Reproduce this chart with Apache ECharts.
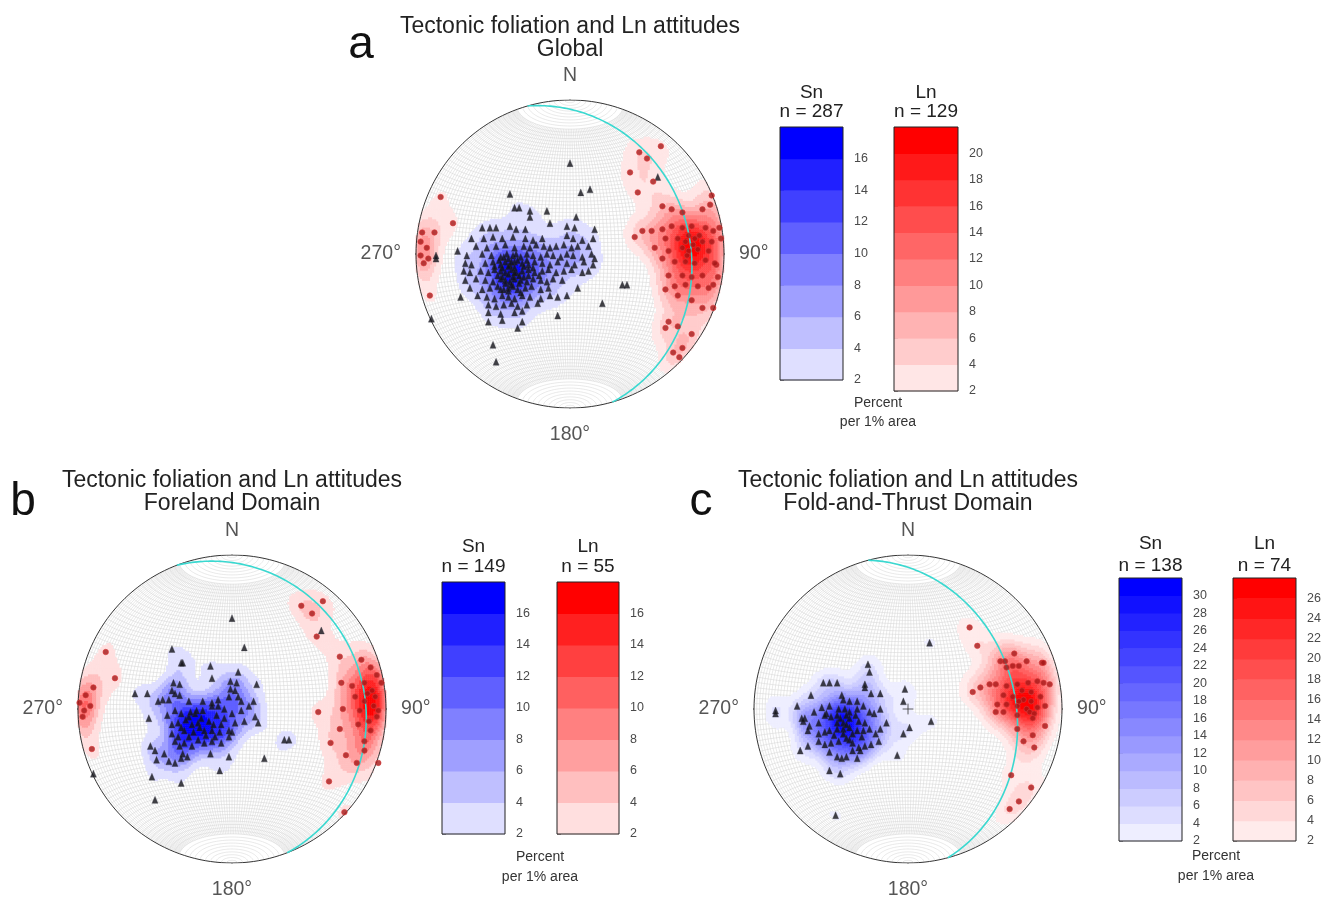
<!DOCTYPE html>
<html><head><meta charset="utf-8">
<script src="https://cdn.jsdelivr.net/npm/echarts@6/dist/echarts.min.js"></script>
<style>html,body{margin:0;padding:0;background:#fff}#c{width:1322px;height:897px}</style>
</head><body><div id="c"></div>
<script>
// ================= DATA (net coordinates: % of primitive radius, x = East, y = North) =================
const titleLine1 = 'Tectonic foliation and Ln attitudes';
const panelLetters = ['a', 'b', 'c'];
const panelTitles = ['Global', 'Foreland Domain', 'Fold-and-Thrust Domain'];
const snCounts = [287, 149, 138];
const lnCounts = [129, 55, 74];
const snKeyMax = [18, 18, 32];
const lnKeyMax = [22, 18, 28];
const keyMin = 2, keyStep = 2;
const girdleStrike = [344, 339, 345];
const girdleDip = [23, 15, 31];
const dirLabels = ['N', '90°', '180°', '270°'];
const keyUnits = ['Percent', 'per 1% area'];

// Sn poles, panel a (Global)
const snA = [
[-57,17],[-52,17],[-48,17],[-39,18],[-35,16],[-29,16],[-2,18],[3,17],
[-64,10],[-56,10],[-50,11],[-44,10],[-37,11],[-29,10],[-24,9],[-18,10],[-2,12],[2,10],[8,9],[15,10],
[-61,5],[-54,4],[-48,5],[-42,6],[-36,4],[-30,5],[-26,4],[-22,6],[-17,5],[-13,4],[-9,5],[-4,6],[1,4],[5,5],[12,5],
[-67,-1],[-57,0],[-51,-1],[-45,-2],[-41,0],[-37,-1],[-32,-2],[-28,0],[-24,-1],[-19,-2],[-15,0],[-11,-1],[-6,-2],[-2,0],[2,-1],[8,-2],[14,0],[16,-3],
[-68,-6],[-64,-7],[-55,-6],[-50,-5],[-45,-7],[-42,-5],[-39,-7],[-36,-5],[-31,-6],[-27,-7],[-23,-5],[-18,-6],[-13,-7],[-8,-5],[-2,-6],[3,-7],[9,-5],[15,-7],
[-69,-11],[-65,-12],[-58,-11],[-53,-12],[-49,-10],[-45,-11],[-42,-12],[-38,-10],[-35,-12],[-31,-11],[-27,-10],[-23,-12],[-18,-11],[-14,-10],[-9,-12],[-4,-11],[1,-10],[8,-12],[12,-11],
[-68,-17],[-61,-16],[-55,-17],[-50,-18],[-45,-16],[-42,-17],[-39,-18],[-36,-16],[-32,-17],[-28,-18],[-24,-16],[-19,-17],[-15,-18],[-11,-16],[-5,-17],
[-65,-22],[-57,-23],[-52,-22],[-47,-21],[-43,-23],[-40,-22],[-37,-21],[-34,-23],[-29,-22],[-25,-21],[-19,-23],[-14,-22],[5,-22],
[-71,-28],[-60,-27],[-54,-28],[-49,-29],[-44,-27],[-40,-28],[-36,-29],[-31,-27],[-26,-28],[-19,-29],[-13,-27],[-8,-28],[-2,-27],
[-53,-33],[-48,-34],[-43,-33],[-38,-32],[-34,-34],[-28,-33],[-21,-32],
[-53,-38],[-45,-39],[-36,-38],[-31,-37],[-53,-44],[-44,-43],[-31,-44],
[-46,-4],[-40,-3],[-34,-4],[-30,-8],[-44,-9],[-40,-13],[-36,-9],[-33,-14],[-47,-14],[-42,-19],[-37,-15],[-30,-15],[-38,-20],[-33,-19],
[-27,-14],[-43,-2],[-35,0],[-49,-8],[-28,-4],[-40,-24],[-32,-25],[-45,-23],[-24,-9],[-20,-14],[-36,-12],[-40,-8],[-44,-15],[-38,-5],
[0,59],[-39,39],[-36,30],[-33,30],[-26,28],[-26,24],[-15,28],[-13,20],[7,40],[13,42],[4,24],[16,16],[57,50],[34,-20],[37,-20],
[21,-32],[-8,-40],[-34,-48],[-50,-59],[-48,-70],[-73,2],[-87,-1],[-87,-3],[-90,-42]
];
// Ln lineations, panel a
const lnA = [
[-96,14],[-97,8],[-93,4],[-97,-1],[-95,-6],[-92,-3],[-88,14],[-91,-27],[-84,37],[-76,20],
[59,70],[45,66],[39,53],[54,47],[44,40],[50,62],
[60,31],[66,29],[73,27],[86,29],[91,32],[92,38],
[53,15],[60,16],[66,18],[73,17],[79,18],[88,17],[93,15],[97,17],
[42,11],[47,15],[62,10],[70,10],[75,8],[81,10],[86,8],[92,8],
[55,4],[64,2],[73,4],[77,2],[83,3],[90,2],
[60,-3],[68,-5],[75,-5],[81,-6],[88,-4],[95,-7],
[64,-14],[73,-14],[79,-15],[86,-14],
[68,-21],[75,-20],[83,-21],[90,-22],[62,-23],[70,-27],[79,-30],[86,-35],[94,-6],
[77,12],[84,12],[80,6],[76,-1],
[64,-44],[62,-48],[70,-47],[79,-52],[73,-61],[71,-67],[67,-64],[93,-35],
[98,10],[96,-15],[93,-20]
];
// Sn poles, panel b (Foreland Domain)
const snB = [
[-38,17],[-34,16],[-39,12],[-37,10],[-34,9],[-41,6],[-45,6],[-48,5],[-28,5],[-19,5],[-13,4],[-9,6],[-1,18],[3,17],[-1,13],[2,12],[-2,8],[4,8],[6,5],[14,5],
[-42,-4],[-37,-1],[-33,-3],[-28,-5],[-24,-3],[-19,-1],[-13,2],[-9,2],[-5,0],[0,-3],[6,-1],[11,2],[15,-5],[17,-9],[8,-8],
[-39,-10],[-35,-9],[-31,-14],[-26,-10],[-22,-9],[-18,-14],[-13,-14],[-7,-10],[-2,-14],[2,-9],
[-53,-24],[-50,-27],[-49,-33],[-44,-29],[-39,-16],[-37,-21],[-34,-24],[-32,-29],[-29,-31],[-26,-24],[-22,-20],[-18,-22],[-13,-21],[-11,-18],[-7,-22],[-2,-18],[0,-15],
[-41,-34],[-37,-35],[-33,-32],[-31,-22],[-14,-29],[-2,-31],
[-30,-7],[-25,-15],[-20,-6],[-15,-8],[-28,-18],[-10,-4],[-33,-12],[-17,-17],[-23,-1],[-5,-6],[-27,-2],[-21,-12],[-12,-10],[-35,-18],[-8,-15],
[0,59],[-39,39],[8,40],[-33,30],[-32,30],[-14,28],[-13,20],[4,24],[16,16],[-63,10],[-55,10],[-54,-6],[34,-20],[37,-20],[21,-32],
[-8,-40],[-52,-44],[-33,-48],[-50,-59],[-90,-42],[58,51]
];
// Ln lineations, panel b
const lnB = [
[-82,37],[-76,20],[-90,14],[-95,9],[-92,2],[-99,4],[-97,-5],[-91,-26],[-96,-1],
[45,67],[59,70],[52,62],[55,47],
[70,34],[84,32],[90,27],[94,22],[97,17],[71,17],[78,15],[86,17],[80,8],[86,5],[92,2],[95,-1],[83,-1],[72,0],[56,-2],
[70,-13],[86,-21],[94,-5],[74,-30],[81,-35],[86,-27],[63,-47],[73,-67],[95,-35],[64,-22],
[88,10],[91,12],[89,-8],[82,-10],[90,-14],[93,8]
];
// Sn poles, panel c (Fold-and-Thrust Domain)
const snC = [
[-55,17],[-51,17],[-46,17],[-63,9],[-43,9],[-42,6],[-38,5],[-33,5],[-28,16],[-28,14],[-24,10],[-18,10],
[-72,2],[-67,-6],[-68,-8],[-61,-2],[-56,1],[-53,-3],[-51,2],[-45,0],[-41,0],[-38,-2],[-33,0],[-29,2],[-25,-2],[-22,-3],[-18,0],
[-14,-9],[-18,-13],[-21,-16],[-28,-9],[-32,-8],[-38,-6],[-42,-9],[-46,-9],[-50,-5],[-54,-4],[-58,-9],[-64,-11],[-69,-6],
[-65,-14],[-58,-16],[-54,-15],[-51,-14],[-46,-13],[-42,-13],[-38,-12],[-33,-14],[-29,-14],[-25,-13],
[-58,-21],[-54,-23],[-50,-22],[-45,-21],[-40,-19],[-36,-22],[-32,-25],[-28,-24],[-24,-23],[-19,-21],
[-70,-27],[-65,-24],[-51,-28],[-46,-31],[-43,-32],[-40,-31],[-33,-32],[-31,-27],[-36,-27],
[-44,-6],[-40,-10],[-36,-16],[-48,-17],[-34,-4],[-42,-16],[-38,-20],[-30,-18],[-46,-4],[-40,-4],
[14,43],[-26,29],[-25,24],[-2,13],[-3,5],[15,-8],[1,-12],[-3,-16],[-7,-30],[-47,-69],[-86,-1],[-86,-3],[-44,-42],[-51,-40]
];
// Ln lineations, panel c
const lnC = [
[40,53],[45,41],[69,36],[60,31],[63,31],[64,27],[68,28],[72,28],[77,31],[87,30],[88,30],
[47,14],[42,11],[53,16],[57,16],[64,15],[71,16],[78,17],[84,18],[88,17],[92,16],
[62,9],[68,8],[75,6],[80,5],[86,8],[58,3],[64,3],[71,2],[77,0],[84,1],[89,2],
[57,-2],[62,-2],[71,-4],[79,-2],[82,-3],[89,-11],[71,-13],[81,-17],[75,-21],[82,-25],
[67,-43],[80,-51],[72,-60],[66,-65],
[74,12],[80,11],[72,5],[81,-6]
];
const snSets = [snA, snB, snC];
const lnSets = [lnA, lnB, lnC];

// ================= LAYOUT (pixels) =================
const FONT = 'Liberation Sans, Arial, Helvetica, sans-serif';
const PANELS = [
  {cx:570, cy:254, R:154, letter:[361,45], title:[570,26.5,49.5], sn:[780,127,63,253], ln:[894,127,64,264], hdr:[92.5,112], pct:[878,403,422], cross:false},
  {cx:232, cy:709, R:154, letter:[23,502], title:[232,481,504], sn:[442,582,63,252], ln:[557,582,62,252], hdr:[547,567], pct:[540,857,877], cross:false},
  {cx:908, cy:709, R:154, letter:[701,502], title:[908,481,504], sn:[1119,578,63,263], ln:[1233,578,63,263], hdr:[544,565.5], pct:[1216,856,876], cross:true}
];
const NC = 150;          // density grid cells across the net
const KAPPA_SN = 115;    // smoothing concentration (spherical kernel) for Sn
const KAPPA_LN = 75;     // smoothing concentration for Ln

// ================= GEOMETRY (Schmidt equal-area, lower hemisphere) =================
const D2R = Math.PI / 180;
function proj(v) { const s = Math.sqrt(1 / (1 + v[2])); return [v[0] * s * 100, v[1] * s * 100]; }
function unproj(p) {
  let x = p[0] / 100, y = p[1] / 100; let r2 = x * x + y * y;
  if (r2 > 1) { const r = Math.sqrt(r2); x /= r; y /= r; r2 = 1; }
  const z = 1 - r2, s = Math.sqrt(1 + z);
  return [x * s, y * s, z];
}
function netLines() {
  const out = [];
  for (let d = 2; d < 180; d += 2) {
    const c = Math.cos(d * D2R), s = Math.sin(d * D2R), pts = [];
    for (let ph = -70; ph <= 70; ph += 2) { const cp = Math.cos(ph * D2R), sp = Math.sin(ph * D2R); pts.push(proj([cp * c, sp, cp * s])); }
    out.push({coords: pts});
  }
  for (let a = 2; a < 180; a += 2) {
    const ca = Math.cos(a * D2R), sa = Math.sin(a * D2R), pts = [];
    for (let t = 0; t <= 180; t += 3) pts.push(proj([sa * Math.cos(t * D2R), ca, sa * Math.sin(t * D2R)]));
    out.push({coords: pts});
  }
  return out;
}
function primitive() { const pts = []; for (let t = 0; t <= 360; t += 2) pts.push([100 * Math.sin(t * D2R), 100 * Math.cos(t * D2R)]); return [{coords: pts}]; }
function ticks() { return [[[0,100],[0,105]], [[100,0],[105,0]], [[0,-100],[0,-105]], [[-100,0],[-105,0]]].map(c => ({coords: c})); }
function greatCircle(strike, dip) {
  const s = strike * D2R, dd = (strike + 90) * D2R, dp = dip * D2R;
  const S = [Math.sin(s), Math.cos(s), 0];
  const Dv = [Math.sin(dd) * Math.cos(dp), Math.cos(dd) * Math.cos(dp), Math.sin(dp)];
  const pts = [];
  for (let r = 0; r <= 180; r += 1) { const c = Math.cos(r * D2R), si = Math.sin(r * D2R); pts.push(proj([c * S[0] + si * Dv[0], c * S[1] + si * Dv[1], si * Dv[2]])); }
  return [{coords: pts}];
}
function density(points, top, kappa) {
  const vs = points.map(unproj), cells = []; let mx = 0;
  for (let i = 0; i < NC; i++) for (let j = 0; j < NC; j++) {
    const X = -100 + (i + 0.5) * 200 / NC, Y = -100 + (j + 0.5) * 200 / NC;
    if (X * X + Y * Y > 10000) continue;
    const u = unproj([X, Y]); let s = 0;
    for (const v of vs) { const c = u[0] * v[0] + u[1] * v[1] + u[2] * v[2]; s += Math.exp(kappa * (c - 1)); }
    cells.push([i, j, s]); if (s > mx) mx = s;
  }
  return cells.map(d => [d[0], d[1], d[2] / mx * top]).filter(d => d[2] >= keyMin);
}
function ramp(kind, k, n) {
  const t = (k + 1) / n, c = Math.round(255 * (1 - t));
  return kind === 'sn' ? 'rgb(' + c + ',' + c + ',255)' : 'rgb(255,' + c + ',' + c + ')';
}
function pieces(kind, top) {
  const n = Math.round((top - keyMin) / keyStep), out = [];
  for (let k = 0; k < n; k++) out.push({gte: keyMin + k * keyStep, lt: (k === n - 1 ? 1e9 : keyMin + (k + 1) * keyStep), color: ramp(kind, k, n)});
  return out;
}

// ================= OPTION =================
const option = {animation: false, backgroundColor: '#fff', textStyle: {fontFamily: FONT},
  grid: [], xAxis: [], yAxis: [], series: [], visualMap: [], graphic: []};
function addGrid(rect) { option.grid.push(Object.assign({show: false, containLabel: false, outerBoundsMode: 'none'}, rect)); return option.grid.length - 1; }
function valueCart(rect, xr, yr, yExtra) {
  const g = addGrid(rect);
  option.xAxis.push({type: 'value', gridIndex: g, min: xr[0], max: xr[1], show: false});
  option.yAxis.push(Object.assign({type: 'value', gridIndex: g, min: yr[0], max: yr[1], show: false}, yExtra || {}));
  return [option.xAxis.length - 1, option.yAxis.length - 1];
}
const cats = Array.from({length: NC}, (_, i) => i);
function catCart(rect) {
  const g = addGrid(rect);
  option.xAxis.push({type: 'category', gridIndex: g, data: cats, show: false, boundaryGap: true});
  option.yAxis.push({type: 'category', gridIndex: g, data: cats, show: false, boundaryGap: true});
  return [option.xAxis.length - 1, option.yAxis.length - 1];
}
function text(x, y, str, size, color, align) {
  option.graphic.push({type: 'text', x: x, y: y, silent: true, z: 20,
    style: {text: str, fontSize: size, fontFamily: FONT, fill: color || '#222', align: align || 'center', verticalAlign: 'middle'}});
}
function colorbar(r, kind, top) {
  const n = Math.round((top - keyMin) / keyStep);
  const labelVals = []; for (let v = keyMin; v < top - 0.01; v += keyStep) labelVals.push(v);
  const [xi, yi] = valueCart({left: r[0], top: r[1], width: r[2], height: r[3]}, [0, 1], [keyMin, top], {
    show: true, position: 'right', interval: keyStep,
    axisLine: {show: false}, splitLine: {show: false},
    axisTick: {show: true, length: 4, lineStyle: {color: '#555', width: 1}, customValues: labelVals},
    axisLabel: {show: true, fontSize: 12.5, color: '#4a4a4a', margin: 11, fontFamily: FONT, customValues: labelVals,
      formatter: v => (v > top - 0.01 ? '' : String(v))}
  });
  const bands = []; for (let k = 0; k < n; k++) bands.push([0.5, keyMin + k * keyStep, keyMin + (k + 1) * keyStep, k]);
  option.series.push({type: 'custom', xAxisIndex: xi, yAxisIndex: yi, silent: true, z: 3, encode: {x: 0, y: [1, 2]}, data: bands,
    renderItem: (p, api) => {
      const a = api.coord([0, api.value(2)]), b = api.coord([1, api.value(1)]);
      return {type: 'rect', shape: {x: a[0], y: a[1], width: b[0] - a[0], height: b[1] - a[1] + 0.5}, style: {fill: ramp(kind, api.value(3), n)}};
    }});
  option.series.push({type: 'custom', xAxisIndex: xi, yAxisIndex: yi, silent: true, z: 4, encode: {x: 0, y: [1, 2]}, data: [[0.5, keyMin, top]],
    renderItem: (p, api) => {
      const a = api.coord([0, api.value(2)]), b = api.coord([1, api.value(1)]);
      return {type: 'rect', shape: {x: a[0], y: a[1], width: b[0] - a[0], height: b[1] - a[1]}, style: {fill: 'none', stroke: '#222', lineWidth: 1}};
    }});
  return r[0] + r[2] / 2;
}

PANELS.forEach((L, p) => {
  const rect = {left: L.cx - L.R, top: L.cy - L.R, width: 2 * L.R, height: 2 * L.R};
  const [vx, vy] = valueCart(rect, [-100, 100], [-100, 100]);
  const [hx, hy] = catCart(rect);
  const base = {xAxisIndex: vx, yAxisIndex: vy, silent: true};
  option.series.push(Object.assign({type: 'lines', coordinateSystem: 'cartesian2d', polyline: true, data: netLines(),
    lineStyle: {color: '#d2d2d2', width: 0.5, opacity: 1}, z: 1, progressive: 0, large: false}, base));
  [['sn', snSets[p], snKeyMax[p], KAPPA_SN], ['ln', lnSets[p], lnKeyMax[p], KAPPA_LN]].forEach(([kind, pts, top, kap]) => {
    option.series.push({type: 'heatmap', xAxisIndex: hx, yAxisIndex: hy, data: density(pts, top, kap), silent: true, z: 2, progressive: 0, emphasis: {disabled: true}});
    option.visualMap.push({type: 'piecewise', show: false, seriesIndex: option.series.length - 1, dimension: 2, pieces: pieces(kind, top)});
  });
  option.series.push(Object.assign({type: 'lines', coordinateSystem: 'cartesian2d', polyline: true, data: primitive().concat(ticks()),
    lineStyle: {color: '#333', width: 1, opacity: 1}, z: 4}, base));
  option.series.push(Object.assign({type: 'lines', coordinateSystem: 'cartesian2d', polyline: true, data: greatCircle(girdleStrike[p], girdleDip[p]),
    lineStyle: {color: '#3ad8d0', width: 1.6, opacity: 1}, z: 5}, base));
  if (L.cross) option.series.push(Object.assign({type: 'lines', coordinateSystem: 'cartesian2d', polyline: true,
    data: [{coords: [[-3.5, 0], [3.5, 0]]}, {coords: [[0, -3.5], [0, 3.5]]}], lineStyle: {color: '#333', width: 0.8, opacity: 1}, z: 5}, base));
  option.series.push(Object.assign({type: 'scatter', data: snSets[p], symbol: 'triangle', symbolSize: [6, 7],
    itemStyle: {color: '#111118', borderColor: '#333340', borderWidth: 0.4}, z: 6}, base));
  option.series.push(Object.assign({type: 'scatter', data: lnSets[p], symbol: 'circle', symbolSize: 5.5,
    itemStyle: {color: '#a51616', borderColor: '#d83a3a', borderWidth: 0.8}, z: 7}, base));
  const pos = [[[0, 100], 'top', 14], [[100, 0], 'right', 15], [[0, -100], 'bottom', 17], [[-100, 0], 'left', 15]];
  option.series.push(Object.assign({type: 'scatter', symbolSize: 0.1, itemStyle: {color: 'rgba(0,0,0,0)'}, z: 8,
    data: pos.map((q, i) => ({value: q[0], label: {show: true, position: q[1], distance: q[2], formatter: dirLabels[i], fontSize: 19.5, color: '#2a2a2a', fontFamily: FONT}}))}, base));

  text(L.letter[0], L.letter[1], panelLetters[p], 46, '#111');
  text(L.title[0], L.title[1], titleLine1, 23, '#222');
  text(L.title[0], L.title[2], panelTitles[p], 23, '#222');
  const sx = colorbar(L.sn, 'sn', snKeyMax[p]);
  const lx = colorbar(L.ln, 'ln', lnKeyMax[p]);
  text(sx, L.hdr[0], 'Sn', 19, '#222'); text(sx, L.hdr[1], 'n = ' + snCounts[p], 19, '#222');
  text(lx, L.hdr[0], 'Ln', 19, '#222'); text(lx, L.hdr[1], 'n = ' + lnCounts[p], 19, '#222');
  text(L.pct[0], L.pct[1], keyUnits[0], 14, '#333');
  text(L.pct[0], L.pct[2], keyUnits[1], 14, '#333');
});

const chart = echarts.init(document.getElementById('c'), null, {renderer: 'canvas'});
chart.setOption(option);
</script>
</body></html>
